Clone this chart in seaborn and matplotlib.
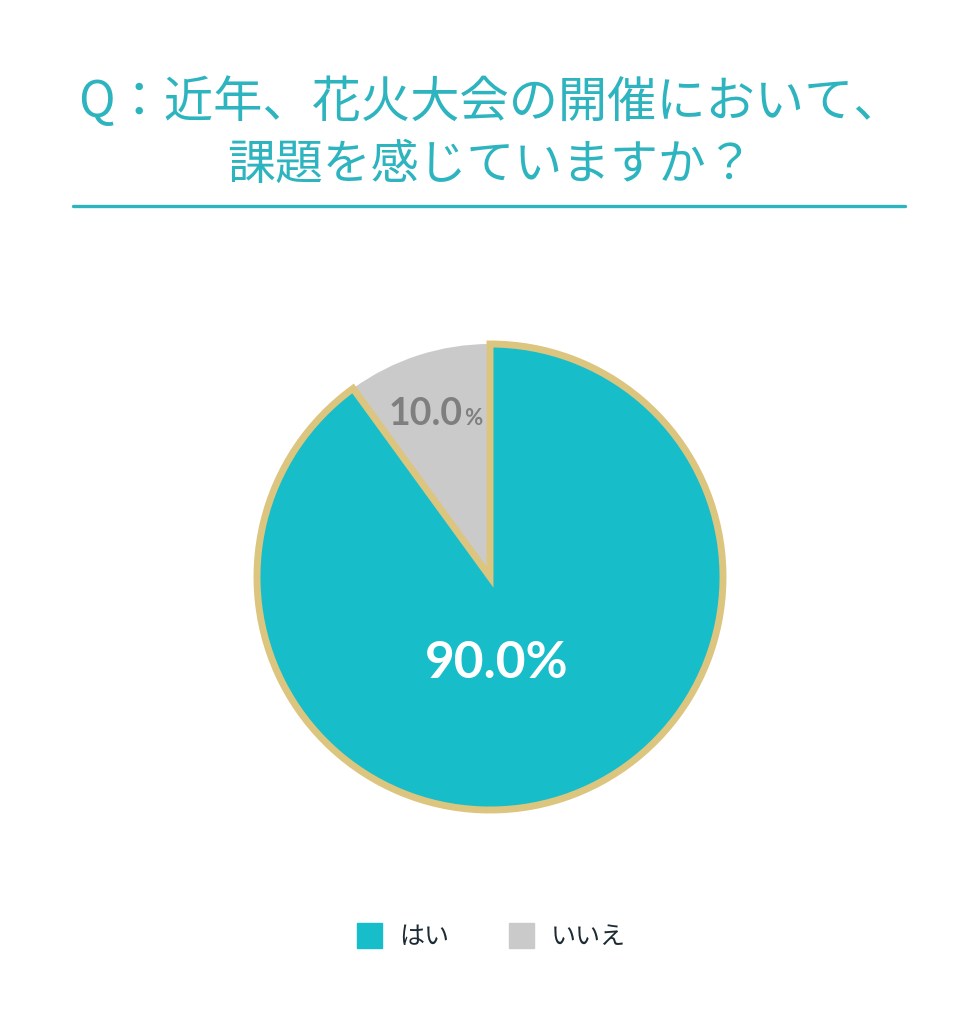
import matplotlib
matplotlib.use("Agg")
import matplotlib.pyplot as plt
from matplotlib.lines import Line2D
import seaborn as sns

# Data
labels = ["はい", "いいえ"]
values = [90.0, 10.0]
colors = ["#17BDC9", "#CACACA"]

title_lines = ["Q：近年、花火大会の開催において、", "課題を感じていますか？"]

TEAL_TITLE = "#2DB4BF"
GOLD = "#DCC57E"

sns.set_theme(style="white")
plt.rcParams["font.family"] = ["Noto Sans CJK JP", "DejaVu Sans"]

fig = plt.figure(figsize=(9.8, 10.24), dpi=100)
fig.patch.set_facecolor("white")

# Title
fig.text(0.5, 0.899, title_lines[0], ha="center", va="center",
         fontsize=35.5, color=TEAL_TITLE)
fig.text(0.5, 0.839, title_lines[1], ha="center", va="center",
         fontsize=34.5, color=TEAL_TITLE)
fig.add_artist(Line2D([73 / 980, 905 / 980], [0.799, 0.799],
                      color=TEAL_TITLE, lw=2.4, transform=fig.transFigure))

# Pie
R = 233
ax = fig.add_axes([(490 - R) / 980, (1024 - 577 - R) / 1024,
                   2 * R / 980, 2 * R / 1024])
wedges, _ = ax.pie(values, colors=colors, startangle=90, counterclock=False,
                   radius=1.0,
                   wedgeprops=dict(edgecolor=GOLD, linewidth=5.0))
wedges[1].set_edgecolor("none")
wedges[1].set_zorder(0)
wedges[0].set_zorder(2)
ax.set_aspect("equal")
ax.axis("off")
ax.set_xlim(-1, 1)
ax.set_ylim(-1, 1)

ax.text(0.03, -0.37, f"{values[0]:.1f}%", ha="center", va="center",
        fontsize=37, fontweight="bold", color="white", family="Lato", zorder=5)
ax.text(-0.116, 0.652, f"{values[1]:.1f}", ha="right", va="baseline",
        fontsize=27, fontweight="bold", color="#7F7F7F", family="Lato", zorder=5)
ax.text(-0.112, 0.652, "%", ha="left", va="baseline",
        fontsize=16, fontweight="bold", color="#7F7F7F", family="Lato", zorder=5)

# Legend
handles = [Line2D([0], [0], marker="s", linestyle="none", markersize=18,
                  markerfacecolor=c, markeredgecolor=c) for c in colors]
fig.legend(handles, labels, loc="center", bbox_to_anchor=(0.5, 1 - 937 / 1024),
           ncol=2, frameon=False, fontsize=18, handletextpad=0.6,
           columnspacing=2.3, labelcolor="#1C2B33", handlelength=1.2)

fig.savefig("out.png", dpi=100, facecolor="white")
